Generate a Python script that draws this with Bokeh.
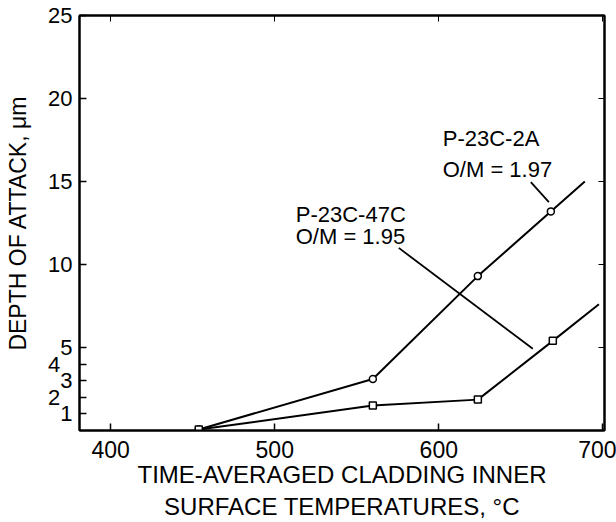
from bokeh.plotting import figure
from bokeh.models import LinearAxis, FixedTicker, Range1d
from bokeh.core.properties import value
from bokeh.embed import file_html
from bokeh.resources import INLINE

# Data
temp_2a = [453.7, 559.8, 623.8, 668.3, 689.0]
depth_2a = [0.06, 3.1, 9.3, 13.2, 15.0]
temp_47c = [453.7, 559.8, 623.8, 669.5, 697.6]
depth_47c = [0.06, 1.5, 1.86, 5.4, 7.6]

x_ticks = [400, 500, 600, 700]
y_ticks = [1, 2, 3, 4, 5, 10, 15, 20, 25]
y_tick_labels = {1: "1", 2: "2\u2007", 3: "3", 4: "4\u2007", 5: "5", 10: "10", 15: "15", 20: "20", 25: "25"}
right_ticks = [5, 10, 15, 20]

label_2a = ["P-23C-2A", "O/M = 1.97"]
label_2a_x = [602.4, 602.4]
label_2a_y = [17.6, 15.7]
label_47c = ["P-23C-47C", "O/M = 1.95"]
label_47c_x = [512.8, 512.8]
label_47c_y = [13.0, 11.66]

leader_x0 = [656.1, 575.6]
leader_y0 = [14.96, 11.0]
leader_x1 = [667.1, 657.3]
leader_y1 = [13.76, 4.93]

FONT = "Liberation Sans"

p = figure(width=616, height=522, output_backend="svg", toolbar_location=None,
           x_range=Range1d(381, 701), y_range=Range1d(0, 25),
           min_border_left=79, min_border_right=12, min_border_top=15, min_border_bottom=91)
p.grid.visible = False
p.outline_line_color = "black"
p.outline_line_width = 2
p.background_fill_color = "white"
p.border_fill_color = "white"

for ax in [p.xaxis[0], p.yaxis[0]]:
    ax.major_tick_in = 7
    ax.major_tick_out = 0
    ax.minor_tick_in = 0
    ax.minor_tick_out = 0
    ax.axis_line_width = 2
    ax.major_tick_line_width = 1.5
    ax.major_label_text_font = FONT
    ax.major_label_text_font_size = "22px"
    ax.major_label_text_color = "black"
    ax.axis_label_text_font = FONT
    ax.axis_label_text_font_style = "normal"
    ax.axis_label_text_color = "black"

p.xaxis[0].ticker = FixedTicker(ticks=x_ticks)
p.yaxis[0].ticker = FixedTicker(ticks=y_ticks)
p.yaxis[0].major_label_overrides = y_tick_labels
p.xaxis[0].major_label_text_font_size = "23px"
p.xaxis[0].major_label_standoff = 10
p.yaxis[0].major_label_standoff = 7
p.xaxis[0].axis_label = "TIME-AVERAGED CLADDING INNER\nSURFACE TEMPERATURES, \u00b0C"
p.xaxis[0].axis_label_text_font_size = "24px"
p.xaxis[0].axis_label_standoff = 0
p.yaxis[0].axis_label = "DEPTH OF ATTACK, \u03bcm"
p.yaxis[0].axis_label_text_font_size = "23px"
p.yaxis[0].axis_label_standoff = 14

top = LinearAxis(ticker=FixedTicker(ticks=x_ticks),
                 major_label_overrides={t: "" for t in x_ticks},
                 major_tick_in=6, major_tick_out=0, minor_tick_in=0, minor_tick_out=0,
                 axis_line_width=2, major_label_standoff=0)
right = LinearAxis(ticker=FixedTicker(ticks=right_ticks),
                   major_label_overrides={t: "" for t in right_ticks},
                   major_tick_in=6, major_tick_out=0, minor_tick_in=0, minor_tick_out=0,
                   axis_line_width=2, major_label_standoff=0)
p.add_layout(top, "above")
p.add_layout(right, "right")

p.line(temp_2a, depth_2a, line_color="black", line_width=2)
p.line(temp_47c, depth_47c, line_color="black", line_width=2)
p.scatter(temp_2a[:-1], depth_2a[:-1], marker="circle", size=7,
          fill_color="white", line_color="black", line_width=1.5)
p.scatter(temp_47c[:-1], depth_47c[:-1], marker="square", size=7,
          fill_color="white", line_color="black", line_width=1.5)

p.segment(leader_x0, leader_y0, leader_x1, leader_y1, line_color="black", line_width=1.8)

p.text(label_2a_x, label_2a_y, text=label_2a, text_font=value(FONT), text_font_size="22px",
       text_align="left", text_baseline="middle", text_color="black")
p.text(label_47c_x, label_47c_y, text=label_47c, text_font=value(FONT), text_font_size="22px",
       text_align="left", text_baseline="middle", text_color="black")

open("out.html", "w").write(file_html(p, INLINE))
